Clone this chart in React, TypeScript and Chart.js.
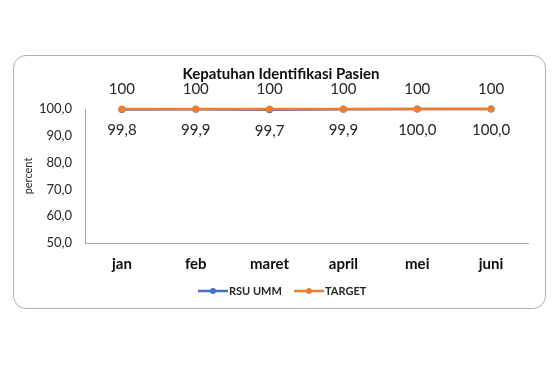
import React, { useEffect, useRef } from "react";
import { Chart, registerables } from "chart.js";

Chart.register(...registerables);

const chartTitle = "Kepatuhan Identifikasi Pasien";
const months = ["jan", "feb", "maret", "april", "mei", "juni"];
const rsuUmm = [99.8, 99.9, 99.7, 99.9, 100.0, 100.0];
const target = [100, 100, 100, 100, 100, 100];
const yTicks = [50, 60, 70, 80, 90, 100];

const FONT = "Lato, 'Open Sans', sans-serif";
const BLUE = "#4472C4";
const ORANGE = "#ED7D31";

const labelsPlugin = {
  id: "customLabels",
  afterDatasetsDraw(chart: any) {
    const ctx = chart.ctx;
    ctx.save();
    // title
    ctx.font = `bold 15px ${FONT}`;
    ctx.fillStyle = "#0d0d0d";
    ctx.textAlign = "center";
    ctx.textBaseline = "middle";
    ctx.fillText(chartTitle, 281, 74);
    // data labels
    ctx.font = `15px ${FONT}`;
    ctx.fillStyle = "#262626";
    chart.data.datasets.forEach((ds: any, i: number) => {
      const meta = chart.getDatasetMeta(i);
      meta.data.forEach((pt: any, j: number) => {
        const v = ds.data[j];
        if (ds.label === "TARGET") {
          ctx.fillText(String(v), pt.x, pt.y - 20);
        } else {
          ctx.fillText(v.toFixed(1).replace(".", ","), pt.x, pt.y + 21);
        }
      });
    });
    // legend
    const items = [
      { label: "RSU UMM", color: BLUE, x: 198 },
      { label: "TARGET", color: ORANGE, x: 294 },
    ];
    const ly = 291;
    items.forEach((it) => {
      ctx.strokeStyle = it.color;
      ctx.lineWidth = 2.5;
      ctx.beginPath();
      ctx.moveTo(it.x, ly);
      ctx.lineTo(it.x + 30, ly);
      ctx.stroke();
      ctx.fillStyle = it.color;
      ctx.beginPath();
      ctx.arc(it.x + 15, ly, 3, 0, Math.PI * 2);
      ctx.fill();
      ctx.fillStyle = "#262626";
      ctx.font = `bold 11px ${FONT}`;
      ctx.textAlign = "left";
      ctx.fillText(it.label, it.x + 31, ly);
    });
    ctx.restore();
  },
};

export default function App() {
  const ref = useRef<HTMLCanvasElement>(null);
  useEffect(() => {
    if (!ref.current) return;
    const chart = new Chart(ref.current, {
      type: "line",
      data: {
        labels: months,
        datasets: [
          {
            label: "RSU UMM",
            data: rsuUmm,
            borderColor: BLUE,
            backgroundColor: BLUE,
            borderWidth: 2.5,
            pointRadius: 3.5,
            pointBorderWidth: 0,
            pointBackgroundColor: BLUE,
            pointBorderColor: BLUE,
            order: 2,
            clip: false as any,
          },
          {
            label: "TARGET",
            data: target,
            borderColor: ORANGE,
            backgroundColor: ORANGE,
            borderWidth: 2.5,
            pointRadius: 3.5,
            pointBorderWidth: 0,
            pointBackgroundColor: ORANGE,
            pointBorderColor: ORANGE,
            order: 1,
            clip: false as any,
          },
        ],
      },
      options: {
        animation: false,
        responsive: false,
        maintainAspectRatio: false,
        layout: { padding: { left: 0, right: 32, top: 109, bottom: 0 } },
        plugins: {
          legend: { display: false },
          tooltip: { enabled: false },
          title: { display: false },
        },
        scales: {
          x: {
            offset: true,
            grid: { display: false, drawTicks: false },
            border: { display: true, color: "#a6a6a6", width: 1 },
            ticks: {
              color: "#0d0d0d",
              font: { family: FONT, size: 15, weight: "bold" },
              padding: 12,
            },
            afterFit(scale: any) {
              scale.height = 127;
            },
          },
          y: {
            min: 50,
            max: 100,
            afterBuildTicks(scale: any) {
              scale.ticks = yTicks.map((v) => ({ value: v }));
            },
            grid: { display: false, drawTicks: false },
            border: { display: true, color: "#a6a6a6", width: 1 },
            ticks: {
              color: "#262626",
              font: { family: FONT, size: 13 },
              padding: 13,
              callback: (v: any) => Number(v).toFixed(1).replace(".", ","),
            },
            title: {
              display: true,
              text: "percent",
              color: "#262626",
              font: { family: FONT, size: 11 },
              padding: { top: 22, bottom: 0 },
            },
            afterFit(scale: any) {
              scale.width = 85;
            },
          },
        },
      },
      plugins: [labelsPlugin],
    });
    return () => chart.destroy();
  }, []);

  return (
    <div style={{ position: "absolute", left: 0, top: 0, width: 560, height: 370, background: "#fff" }}>
      <div
        style={{
          position: "absolute",
          left: 13,
          top: 55,
          width: 533,
          height: 254,
          border: "1px solid #b0b0b0",
          borderRadius: 13,
          boxSizing: "border-box",
        }}
      />
      <canvas ref={ref} width={560} height={370} style={{ position: "absolute", left: 0, top: 0 }} />
    </div>
  );
}
